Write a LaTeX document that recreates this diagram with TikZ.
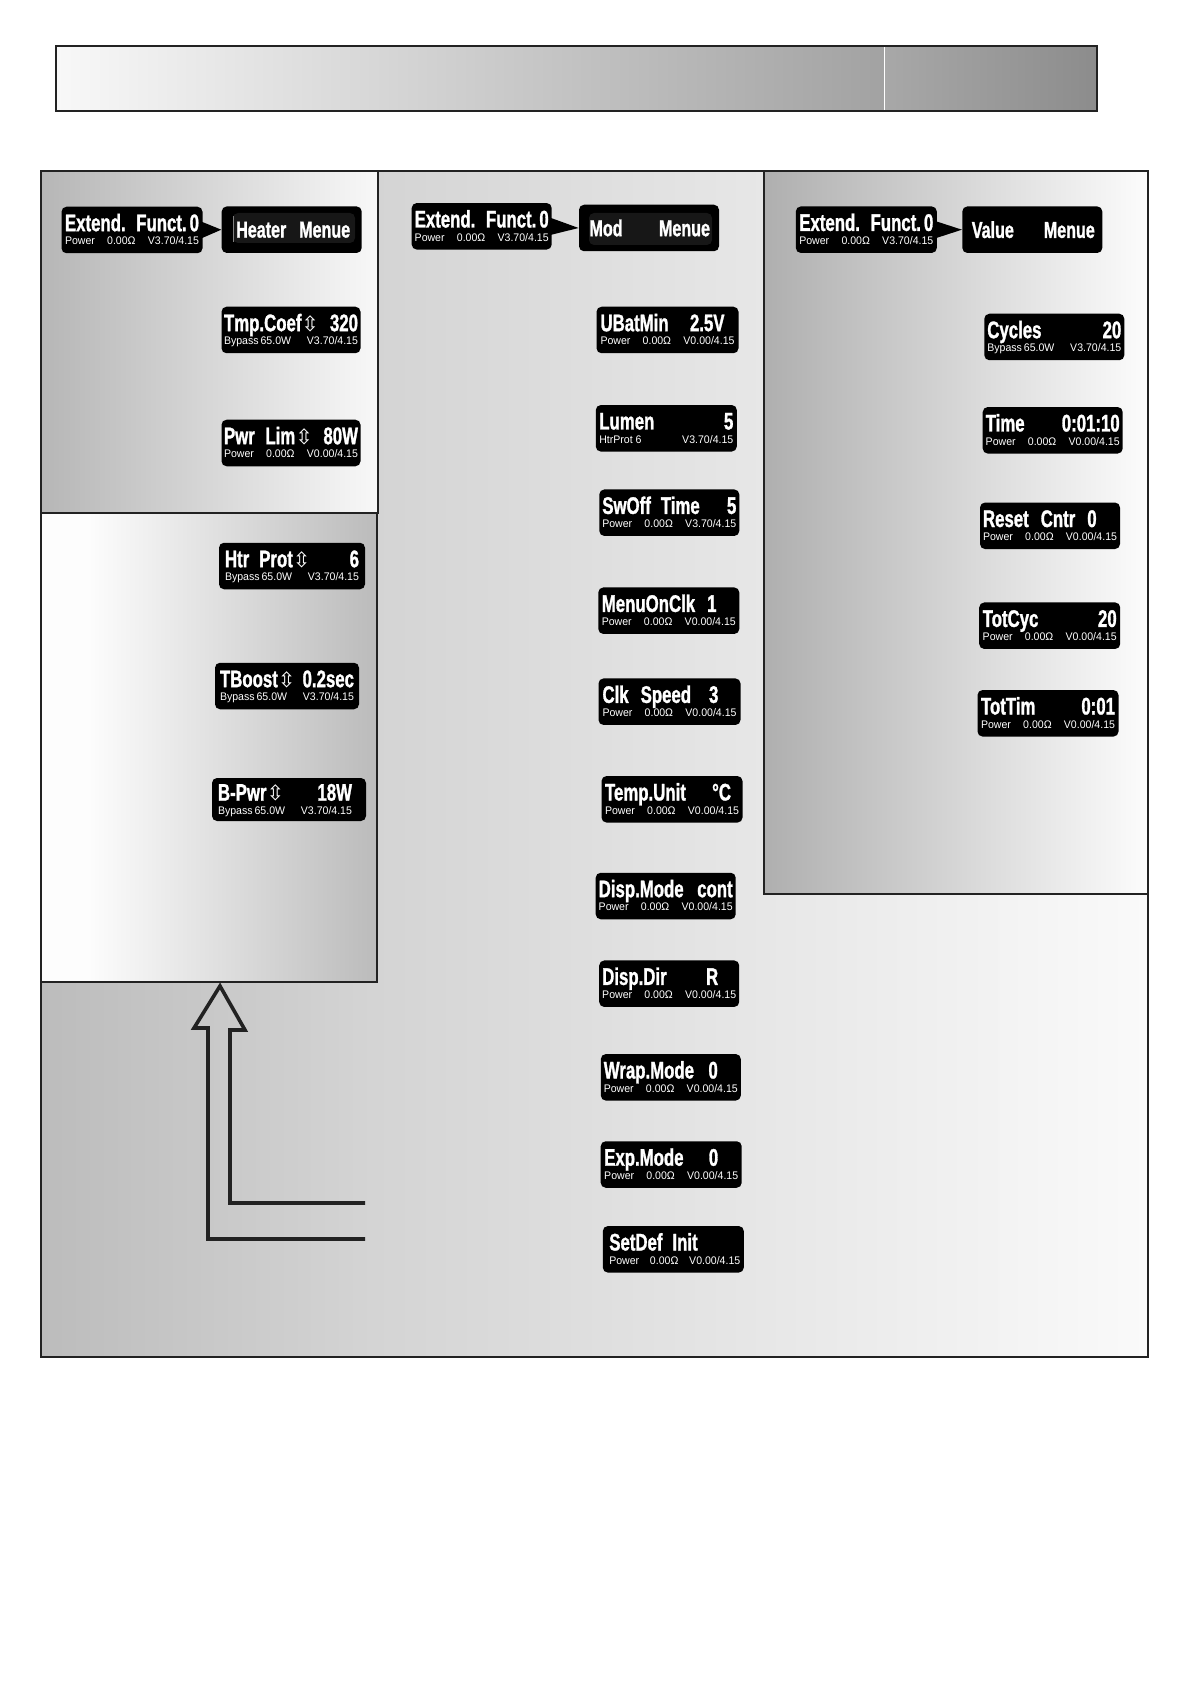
\documentclass[tikz,border=0pt]{standalone}
\usepackage{fontspec}
\setmainfont{Liberation Sans}
\newfontfamily\ttlfont[FakeStretch=0.7,FakeBold=1.2]{Liberation Sans}
\newfontfamily\subfont[FakeStretch=0.96]{Liberation Sans}
\newfontfamily\symfont{DejaVu Sans}
\usetikzlibrary{calc}
\definecolor{lineC}{HTML}{222222}
\definecolor{innerC}{HTML}{171717}
\definecolor{hdrA}{HTML}{F8F8F8}
\definecolor{hdrB}{HTML}{A2A2A2}
\definecolor{hdrC}{HTML}{A8A8A8}
\definecolor{hdrD}{HTML}{8C8C8C}
\definecolor{bgA}{HTML}{BCBCBC}
\definecolor{bgB}{HTML}{D4D4D4}
\definecolor{bgC}{HTML}{E4E4E4}
\definecolor{bgD}{HTML}{FAFAFA}
\definecolor{hpA}{HTML}{B6B6B6}
\definecolor{hpB}{HTML}{F8F8F8}
\definecolor{lpA}{HTML}{FDFDFD}
\definecolor{lpB}{HTML}{BBBBBB}
\definecolor{rpA}{HTML}{AFAFAF}
\definecolor{rpB}{HTML}{FCFCFC}
\pgfdeclarehorizontalshading{bgshade}{100bp}{color(0bp)=(bgA); color(25bp)=(bgA); color(40bp)=(bgB); color(55bp)=(bgC); color(75bp)=(bgD); color(100bp)=(bgD)}
\pgfdeclarehorizontalshading{lpshade}{100bp}{color(0bp)=(lpA); color(32bp)=(lpA); color(75bp)=(lpB); color(100bp)=(lpB)}
\newcommand\ttl{\ttlfont\bfseries\fontsize{12}{12}\selectfont}
\newcommand\ttlm{\ttlfont\bfseries\fontsize{11.5}{11.5}\selectfont}
\newcommand\subf{\subfont\mdseries\fontsize{5.5}{5.5}\selectfont}
\newcommand\UD{{\symfont\mdseries\fontsize{10.5}{10.5}\selectfont ⇳}}
\newcommand\lcd[3][67pt]{\vbox{\hsize=#1\relax\baselineskip=6.8pt\lineskiplimit=-100pt\lineskip=0pt
 \setbox0=\hbox to\hsize{\ttl #2}\ht0=8.6pt\dp0=0pt\box0
 \setbox0=\hbox to\hsize{\subf #3}\ht0=4pt\dp0=0.6pt\box0}}
\newcommand\lcdm[2][67pt]{\hbox to #1{\ttlm\vrule height8pt depth0pt width0pt #2}}
\newcommand\PwA{Power\hfill 0.00Ω\hfill V3.70/4.15}
\newcommand\PwB{Power\hfill 0.00Ω\hfill V0.00/4.15}
\newcommand\ByA{Bypass\kern1pt 65.0W\hfill V3.70/4.15}
\begin{document}
\begin{tikzpicture}[x=0.5pt,y=-0.5pt,
  lcdbox/.style={fill=black, rounded corners=2.5pt, inner sep=0pt, minimum width=70.5pt, minimum height=23.25pt, text=white},
  panelline/.style={draw=lineC, line width=1pt},
  bigarrow/.style={draw=lineC, line width=1.8pt, line join=miter}]
\fill[white] (0,0) rectangle (1190,1684);
\useasboundingbox (0,0) rectangle (1190,1684);
% header bar
\shade[left color=hdrA, right color=hdrB] (56,46) rectangle (884,111);
\shade[left color=hdrC, right color=hdrD] (884,46) rectangle (1097,111);
\draw[white, line width=0.5pt] (884,47) -- (884,110);
\draw[panelline] (56,46) rectangle (1097,111);
% frame and panels
\shade[shading=bgshade] (41,171) rectangle (1148,1357);
\shade[left color=hpA, right color=hpB] (41,171) rectangle (378,513);
\shade[shading=lpshade] (41,513) rectangle (377,982);
\shade[left color=rpA, right color=rpB] (764,171) rectangle (1148,894);
\draw[panelline] (41,171) rectangle (1148,1357);
\draw[panelline] (378,171) -- (378,513) -- (41,513);
\draw[panelline] (377,513) -- (377,982) -- (41,982);
\draw[panelline] (764,171) -- (764,894) -- (1148,894);
% hollow arrow
\coordinate (arrIn) at (365,1203);
\coordinate (arrOut) at (365,1239);
\coordinate (arrTip) at (220,986);
\draw[bigarrow] (arrIn) -- (230,1203) -- (230,1030) -- (245,1030) -- (arrTip) -- (194,1028) -- (208,1028) -- (208,1239) -- (arrOut);
% heater column
\node[lcdbox] (e1) at (132,230) {\lcd{Extend.\hfill Funct.\kern1.5pt 0}{\PwA}};
\node[lcdbox, minimum width=70pt, path picture={\fill[innerC] ($(path picture bounding box.center)+(-58.7,-16.7)$) rectangle +(122,30); \draw[gray, line width=0.5pt] ($(path picture bounding box.center)+(-58.4,-14)$) -- +(0,26);}] (hm) at (291.7,229.7) {\lcdm{\kern5.75pt Heater\hfill Menue\kern4.25pt}};
\fill[black] ($(e1.east)+(-3,-9)$) -- (hm.west) -- ($(e1.east)+(-3,9)$) -- cycle;
\node[lcdbox, minimum width=69.5pt] (tmp) at (291,330) {\lcd{Tmp.Coef\UD\hfill 320}{\ByA}};
\node[lcdbox, minimum width=69.5pt] (pwr) at (291,443) {\lcd{Pwr\hfill Lim\UD\hfill 80W}{\PwB}};
\node[lcdbox, minimum width=73pt] (htr) at (292,566) {\lcd{Htr\kern5pt Prot\UD\hfill 6}{\ByA}};
\node[lcdbox, minimum width=72pt] (tbo) at (287,686) {\lcd{TBoost\UD\hfill 0.2sec}{\ByA}};
\node[lcdbox, minimum width=77pt, minimum height=21.5pt] (bpw) at (289,799.5) {\lcd[71pt]{B-Pwr\UD\hfill 18W\kern4pt}{\ByA\kern4pt}};
% mod column
\node[lcdbox, minimum width=70pt] (e2) at (481.7,226.3) {\lcd{Extend.\hfill Funct.\kern1.5pt 0}{\PwA}};
\node[lcdbox, minimum width=70pt, path picture={\fill[innerC] ($(path picture bounding box.center)+(-60,-15)$) rectangle +(123,32);}] (mm) at (649,228) {\lcdm{\kern3.75pt Mod\hfill Menue\kern3pt}};
\fill[black] ($(e2.east)+(-3,-9)$) -- (mm.west) -- ($(e2.east)+(-3,9)$) -- cycle;
\node[lcdbox, minimum width=71pt] (ubat) at (667.5,330) {\lcd{UBatMin\hfill 2.5V\kern5pt}{\PwB}};
\node[lcdbox] (lum) at (666.3,428.3) {\lcd{Lumen\hfill 5}{HtrProt 6\hfill V3.70/4.15}};
\node[lcdbox, minimum width=70pt] (swo) at (669.3,512.7) {\lcd{SwOff\kern5pt Time\hfill 5}{\PwA}};
\node[lcdbox] (moc) at (668.8,610.7) {\lcd{MenuOnClk\kern6pt 1\hfill}{\PwB}};
\node[lcdbox, minimum width=71pt] (clk) at (669.5,701.7) {\lcd{Clk\kern6pt Speed\kern9pt 3\hfill}{\PwB}};
\node[lcdbox] (tmu) at (672,799.3) {\lcd{Temp.Unit\hfill °C\kern4pt}{\PwB}};
\node[lcdbox, minimum width=70pt] (dmo) at (665.7,896) {\lcd{Disp.Mode\hfill cont}{\PwB}};
\node[lcdbox, minimum width=70pt] (ddi) at (669.2,983.7) {\lcd{Disp.Dir\hfill R\kern9pt}{\PwB}};
\node[lcdbox, minimum width=70pt] (wrm) at (670.8,1077.3) {\lcd{Wrap.Mode\hfill 0\kern10pt}{\PwB}};
\node[lcdbox] (exm) at (671.2,1164.5) {\lcd{Exp.Mode\hfill 0\kern10pt}{\PwB}};
\node[lcdbox] (sdi) at (673.3,1249.3) {\lcd{\kern1.5pt SetDef\kern5pt Init\hfill}{\kern1.5pt\PwB}};
% value column
\node[lcdbox] (e3) at (866.3,229.7) {\lcd{Extend.\hfill Funct.\kern1.5pt 0}{\PwA}};
\node[lcdbox, minimum width=70pt] (vm) at (1032.3,229.7) {\lcdm{\kern3.25pt Value\hfill Menue\kern2.25pt}};
\fill[black] ($(e3.east)+(-3,-9)$) -- (vm.west) -- ($(e3.east)+(-3,9)$) -- cycle;
\node[lcdbox, minimum width=70pt] (cyc) at (1054.3,337) {\lcd{Cycles\hfill 20}{\ByA}};
\node[lcdbox, minimum width=70pt] (tim) at (1052.7,430.3) {\lcd{Time\hfill 0:01:10}{\PwB}};
\node[lcdbox, minimum width=70pt] (rsc) at (1050,525.8) {\lcd{Reset\kern6pt Cntr\kern6pt 0\hfill}{\PwB}};
\node[lcdbox] (tcy) at (1049.7,625.7) {\lcd{TotCyc\hfill 20}{\PwB}};
\node[lcdbox] (ttm) at (1048,713.3) {\lcd{TotTim\hfill 0:01}{\PwB}};
\end{tikzpicture}
\end{document}
